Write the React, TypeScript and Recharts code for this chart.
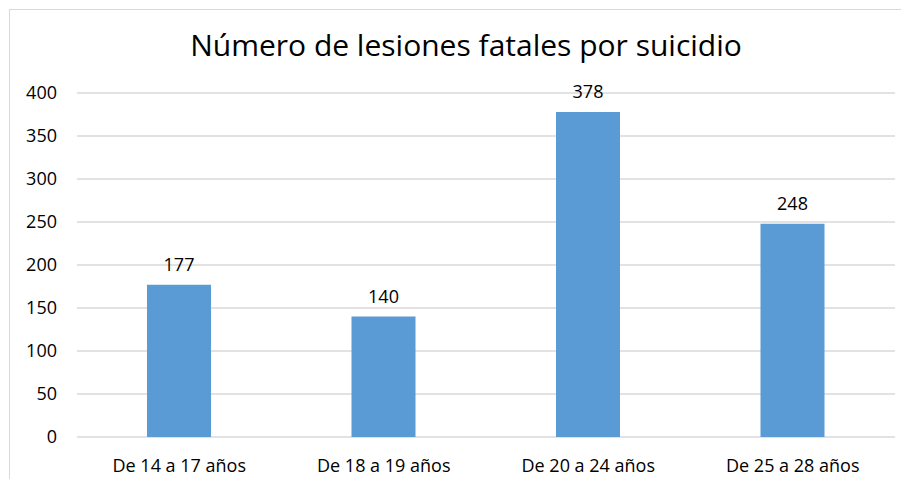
import { BarChart, Bar, XAxis, YAxis, CartesianGrid, LabelList } from 'recharts'

const categories = ['De 14 a 17 años', 'De 18 a 19 años', 'De 20 a 24 años', 'De 25 a 28 años']
const values = [177, 140, 378, 248]
const yTicks = [0, 50, 100, 150, 200, 250, 300, 350, 400]
const title = 'Número de lesiones fatales por suicidio'

const FONT = '"Open Sans", Lato, sans-serif'

export default function App() {
  const data = categories.map((name, i) => ({ name, value: values[i] }))

  return (
    <div
      style={{
        position: 'relative',
        left: 1,
        top: 1,
        width: 892,
        height: 470,
        borderLeft: '1px solid #d9d9d9',
        borderTop: '1px solid #d9d9d9',
        fontFamily: FONT,
      }}
    >
      <div
        style={{
          position: 'absolute',
          left: 56,
          top: 20,
          width: 800,
          textAlign: 'center',
          fontSize: 30,
          fontWeight: 500,
          lineHeight: '30px',
          color: '#000',
        }}
      >
        {title}
      </div>
      <BarChart width={892} height={470} data={data} margin={{ top: 83, right: 7, left: 7, bottom: 3 }}>
        <CartesianGrid vertical={false} stroke="#d9d9d9" strokeWidth={1.3} />
        <XAxis
          dataKey="name"
          axisLine={false}
          tickLine={false}
          tickSize={0}
          tickMargin={22}
          height={40}
          interval={0}
          tick={{ fill: '#000', fontSize: 18, fontWeight: 500, fontFamily: FONT }}
        />
        <YAxis
          domain={[0, 400]}
          ticks={yTicks}
          width={60}
          axisLine={false}
          tickLine={false}
          tickSize={0}
          tickMargin={20}
          tick={{ fill: '#000', fontSize: 18, fontWeight: 500, fontFamily: FONT }}
        />
        <Bar dataKey="value" fill="#5b9bd5" barSize={64} isAnimationActive={false}>
          <LabelList dataKey="value" position="top" offset={14} fill="#000" fontSize={18} fontWeight={500} fontFamily={FONT} />
        </Bar>
      </BarChart>
    </div>
  )
}
